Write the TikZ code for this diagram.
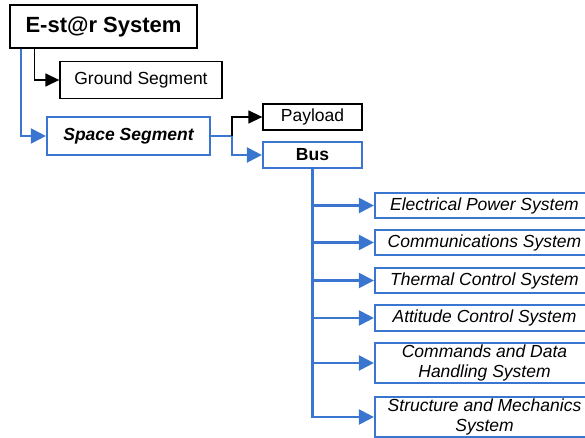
\documentclass[tikz,border=0pt]{standalone}
\usepackage{fontspec}
\setmainfont{Liberation Sans}
\usetikzlibrary{arrows.meta,positioning}
\definecolor{segblue}{RGB}{58,118,208}

\begin{document}
\begin{tikzpicture}[x=1pt,y=-1pt,
    box/.style={draw=black,line width=1.3pt,fill=white,inner sep=0pt,
      font=\fontsize{17.5}{20.5}\selectfont},
    bluebox/.style={box,draw=segblue,line width=2.2pt},
    sub/.style={bluebox,minimum width=219pt,align=center,
      font=\fontsize{17.5}{20.5}\selectfont\itshape},
    lnk/.style={line width=1.4pt,-{Triangle[length=14pt,width=13pt]}},
    bluelnk/.style={lnk,draw=segblue,line width=2.2pt,
      -{Triangle[length=15pt,width=15pt,fill=segblue]}}]
      \useasboundingbox (0,0) rectangle (585,438);
      % top level
      \node[box,minimum width=187pt,minimum height=43pt,
        font=\fontsize{22}{24}\selectfont\bfseries] (sys) at (103.5,26.5) {E-st@r System};
      \node[box,minimum width=162pt,minimum height=37.5pt] (ground) at (141,80) {Ground Segment};
      \node[bluebox,minimum width=163pt,minimum height=38pt,
        font=\fontsize{17.5}{20.5}\selectfont\bfseries\itshape] (space) at (128.5,136) {Space Segment};
      \node[box,minimum width=99pt,minimum height=26pt] (payload) at (312.5,117) {Payload};
      \node[bluebox,minimum width=99pt,minimum height=26pt,
        font=\fontsize{17.5}{20.5}\selectfont\bfseries] (bus) at (312.5,155) {Bus};
      % bus subsystems
      \node[sub,minimum height=25pt] (eps) at (484.5,205.5) {Electrical Power System};
      \node[sub,minimum height=25pt] (comm) at (484.5,242.5) {Communications System};
      \node[sub,minimum height=25pt] (thermal) at (484.5,280.5) {Thermal Control System};
      \node[sub,minimum height=26pt] (adcs) at (484.5,318) {Attitude Control System};
      \node[sub,minimum height=40pt] (cdh) at (484.5,363) {Commands and Data\\Handling System};
      \node[sub,minimum height=40pt] (struct) at (484.5,417) {Structure and Mechanics\\System};
      \coordinate (split) at (232,136);
      % connectors
      \draw[lnk] ([xshift=25pt]sys.south west) |- (ground.west);
      \draw[bluelnk] ([xshift=12pt]sys.south west) |- (space.west);
      \draw[segblue,line width=2.2pt] (space.east) -- (split);
      \draw[lnk] (split) |- (payload.west);
      \draw[bluelnk] (split) |- (bus.west);
      \foreach \s in {eps,comm,thermal,adcs,cdh,struct}
        \draw[bluelnk] (bus.south) |- (\s.west);
    \end{tikzpicture}
\end{document}
